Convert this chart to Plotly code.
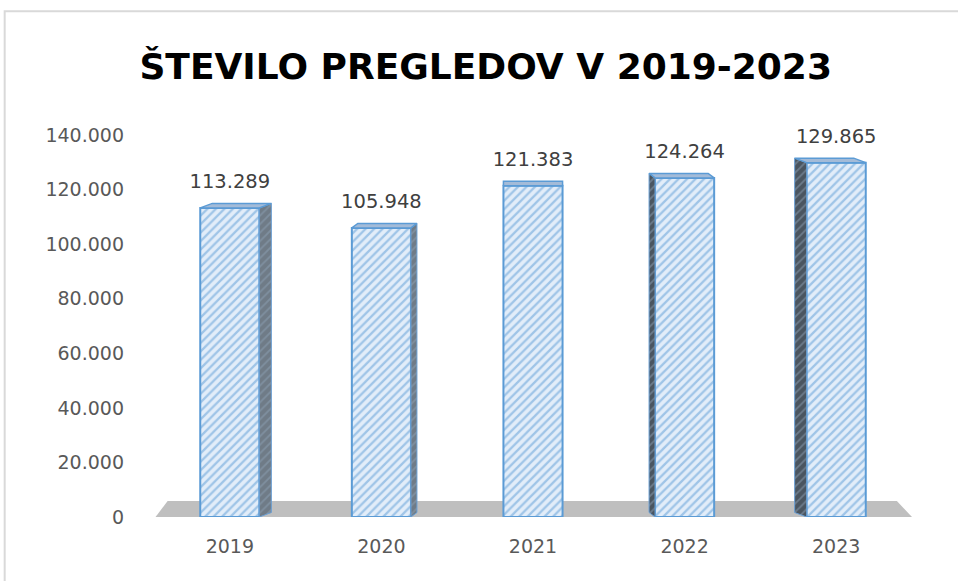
import plotly.graph_objects as go

# ---- data ----
years = ["2019", "2020", "2021", "2022", "2023"]
values = [113289, 105948, 121383, 124264, 129865]
y_ticks = [0, 20000, 40000, 60000, 80000, 100000, 120000, 140000]
title_text = "ŠTEVILO PREGLEDOV V 2019-2023"

# ---- style / geometry helpers ----
pos = list(range(len(years)))
BAR_W = 0.39
X_PER_PX = 1 / 151.8          # x units per pixel
Y_PER_PX = 140000 / 382.5     # y units per pixel
DEPTH_Y = 4.5 * Y_PER_PX
LABEL_OFF = 25 * Y_PER_PX

def fmt(v):
    return f"{v:,}".replace(",", ".")

fig = go.Figure()

# front faces (real bars)
fig.add_trace(go.Bar(
    x=pos, y=values, width=BAR_W,
    marker=dict(
        color="#deebf8",
        line=dict(color="#5b9bd5", width=2),
        pattern=dict(shape="/", fgcolor="#5b9bd5", bgcolor="#e2edf9",
                     size=6, solidity=0.38),
    ),
    hoverinfo="x+y", showlegend=False,
))

# side and top faces (pseudo-3D), derived from the data
mid = (len(years) - 1) / 2
for p, v in zip(pos, values):
    dx = -(p - mid) * 6 * X_PER_PX
    if abs(dx) > 1e-9:
        ex = p + BAR_W / 2 if dx > 0 else p - BAR_W / 2
        side_bg = "#6f7b87" if dx > 0 else "#4a5560"
        fig.add_trace(go.Scatter(
            x=[ex, ex + dx, ex + dx, ex, ex],
            y=[0, DEPTH_Y, v + DEPTH_Y, v, 0],
            fill="toself", fillcolor=side_bg, mode="lines",
            fillpattern=dict(shape="/", fgcolor="#8fa3b8", bgcolor=side_bg,
                             size=6, solidity=0.3),
            line=dict(color="#6a9fd4", width=1),
            hoverinfo="skip", showlegend=False,
        ))
    xl, xr = p - BAR_W / 2, p + BAR_W / 2
    fig.add_trace(go.Scatter(
        x=[xl, xr, xr + dx, xl + dx, xl],
        y=[v, v, v + DEPTH_Y, v + DEPTH_Y, v],
        fill="toself", fillcolor="#a3bbd8", mode="lines",
        line=dict(color="#5b9bd5", width=1.5),
        hoverinfo="skip", showlegend=False,
    ))

# data labels
fig.add_trace(go.Scatter(
    x=pos, y=[v + LABEL_OFF for v in values],
    mode="text", text=[fmt(v) for v in values],
    textposition="middle center",
    textfont=dict(family="DejaVu Sans", size=19.5, color="#404040"),
    hoverinfo="skip", showlegend=False, cliponaxis=False,
))

# floor
floor_h = 16 * Y_PER_PX
fig.add_shape(
    type="path", xref="x", yref="y", layer="below",
    path=f"M -0.49 0 L 4.50 0 L 4.40 {floor_h} L -0.41 {floor_h} Z",
    fillcolor="#bfbfbf", line=dict(width=0),
)
# chart border (right/bottom edges run past the window)
fig.add_shape(
    type="rect", xref="paper", yref="paper",
    x0=-0.197, x1=1.09, y0=-0.25, y1=1.324,
    line=dict(color="#d9d9d9", width=2), fillcolor="rgba(0,0,0,0)",
)

fig.update_layout(
    width=958, height=581,
    margin=dict(l=153.5, r=45.5, t=135, b=63.5),
    paper_bgcolor="white", plot_bgcolor="white",
    separators=",.",
    title=dict(
        text=title_text, x=0.507, xanchor="center", y=0.886, yanchor="middle",
        xref="container", yref="container",
        font=dict(family="DejaVu Sans", size=36, color="#000000", weight="bold"),
    ),
    xaxis=dict(
        range=[-0.5, 4.5], tickvals=pos, ticktext=years,
        showgrid=False, zeroline=False, showline=False, ticks="",
        tickfont=dict(family="DejaVu Sans", size=19, color="#595959"),
        ticklabelstandoff=16,
    ),
    yaxis=dict(
        range=[0, 140000], tickvals=y_ticks, tickformat=",d",
        showgrid=False, zeroline=False, showline=False, ticks="",
        tickfont=dict(family="DejaVu Sans", size=19, color="#595959"),
        ticklabelstandoff=29,
    ),
    bargap=0.6,
)

fig.write_html("out.html")
